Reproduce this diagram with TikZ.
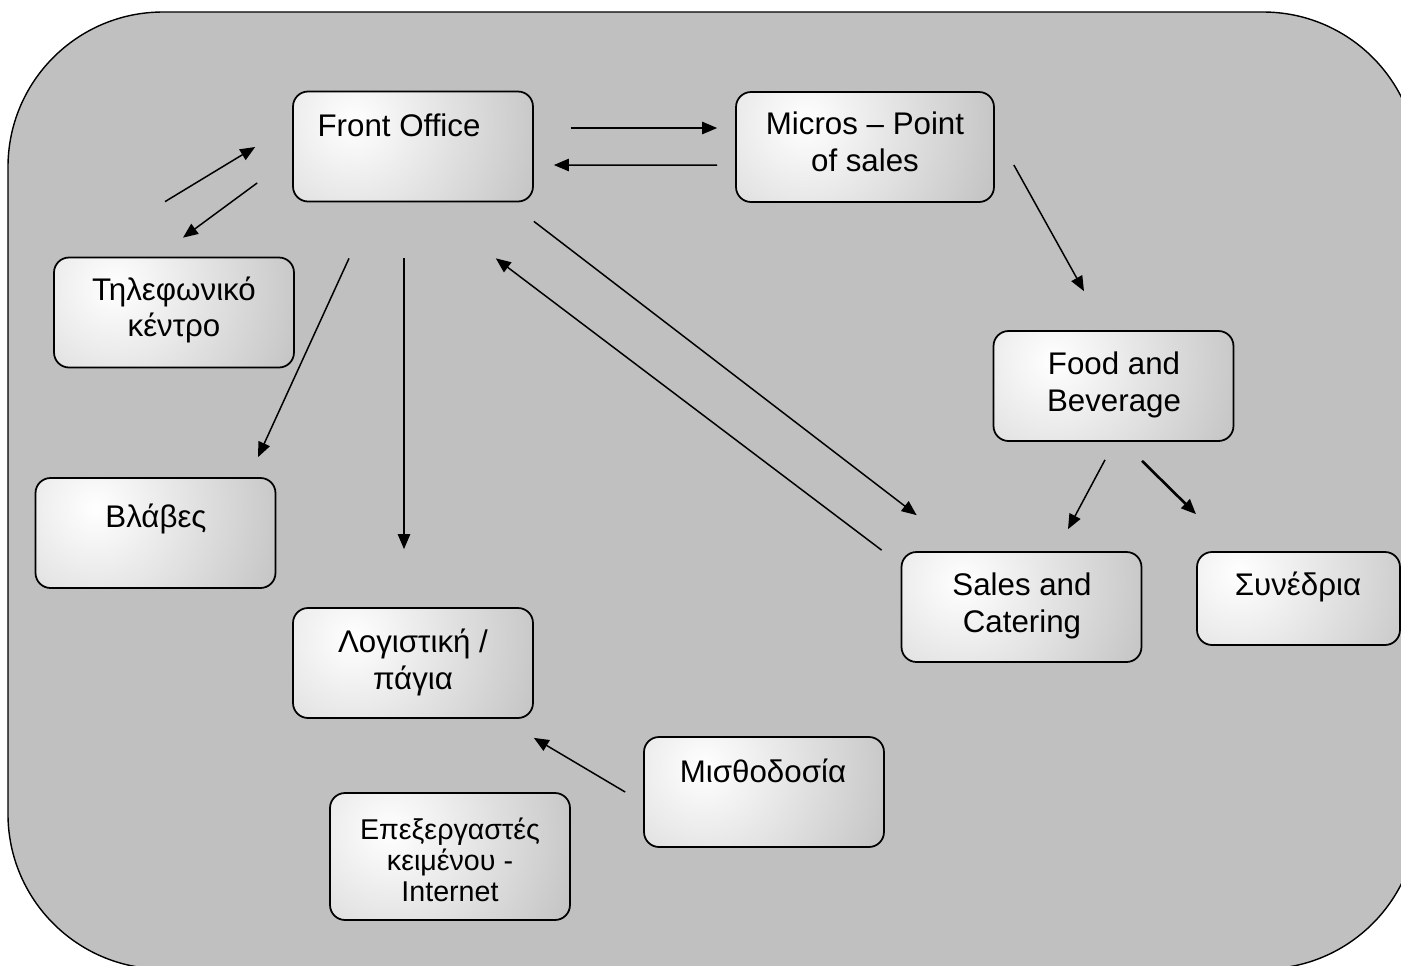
\documentclass[tikz,border=0pt]{standalone}
\usepackage{fontspec}
\setmainfont{Liberation Sans}
\usetikzlibrary{arrows.meta,calc}

\definecolor{panelgray}{HTML}{C0C0C0}

\begin{document}
\begin{tikzpicture}[x=0.02cm, y=-0.02cm,
  box/.style={draw, line width=1pt, rounded corners=0.3cm, fill=panelgray,
    minimum width=4.8cm, minimum height=2.2cm, inner sep=0pt,
    path picture={\shade[inner color=white, outer color=panelgray]
      ($(path picture bounding box.center)+(-60,-25)$) circle (4.2cm);}},
  txt/.style={align=center, inner sep=0pt, font=\fontsize{17.8}{21}\selectfont},
  arrow/.style={-{Triangle[length=8.5pt, width=7pt]}, line width=0.85pt},
  bold arrow/.style={arrow, line width=1.5pt}
]
\useasboundingbox (0,0) rectangle (1401,965);
\clip (0,0) rectangle (1401,965);
\fill[white] (0,0) rectangle (1401,965);
\draw[fill=panelgray, line width=0.8pt, rounded corners=3.1cm] (8,12) rectangle (1418,969);

% boxes
\node[box] (fo) at (413,146.5) {};
\node[box, minimum width=5.16cm] (mic) at (865,147) {};
\node[box] (tel) at (174,312.5) {};
\node[box] (fb) at (1113.5,386) {};
\node[box] (blab) at (155.5,533) {};
\node[box] (sc) at (1021.5,607) {};
\node[box, minimum width=4.06cm, minimum height=1.86cm] (syn) at (1298.5,598.5) {};
\node[box] (log) at (413,663) {};
\node[box] (mis) at (764,792) {};
\node[box, minimum height=2.54cm] (epe) at (450,856.5) {};

% texts
\node[txt] (fo-t) at (399,125) {Front Office};
\node[txt] (mic-t) at (865,142) {Micros – Point\\of sales};
\node[txt] (tel-t) at (174,310) {Τηλεφωνικό\\κέντρο};
\node[txt] (fb-t) at (1114,385) {Food and\\Beverage};
\node[txt] (blab-t) at (156,519) {Βλάβες};
\node[txt] (sc-t) at (1022,606) {Sales and\\Catering};
\node[txt] (syn-t) at (1298,587) {Συνέδρια};
\node[txt] (log-t) at (413,662) {Λογιστική /\\πάγια};
\node[txt] (mis-t) at (763,771) {Μισθοδοσία};
\node[txt, font=\fontsize{16.3}{17.6}\selectfont] (epe-t) at (450,860) {Επεξεργαστές\\κειμένου -\\Internet};

% connectors
\draw[arrow] ($(fo.east)+(37,-18.5)$) -- ($(mic.west)+(-18,-19)$);
\draw[arrow] ($(mic.west)+(-18,18)$) -- ($(fo.east)+(20,18.5)$);
\draw[arrow] ($(tel.north)+(-9,-55)$) -- ($(fo.west)+(-37,0.5)$);
\draw[arrow] ($(fo.west)+(-35,36.5)$) -- ($(tel.north)+(9,-19)$);
\draw[arrow] ($(fo.south)+(-64,56)$) -- ($(blab.north)+(102.5,-20)$);
\draw[arrow] ($(fo.south)+(-9,56)$) -- ($(log.north)+(-9,-58)$);
\draw[arrow] ($(fo.south east)+(0,19)$) -- ($(sc.north west)+(16,-36)$);
\draw[arrow] ($(sc.north west)+(-19,-1)$) -- ($(fo.south east)+(-38,56)$);
\draw[arrow] ($(mic.east)+(19,18)$) -- ($(fb.north)+(-29.5,-39)$);
\draw[arrow] ($(fb.south)+(-8.5,18)$) -- ($(sc.north)+(46.5,-22)$);
\draw[bold arrow] ($(fb.south)+(28.5,19)$) -- ($(syn.north)+(-102.5,-37)$);
\draw[arrow] ($(mis.west)+(-18,0)$) -- ($(log.south east)+(0,19)$);
\end{tikzpicture}
\end{document}
